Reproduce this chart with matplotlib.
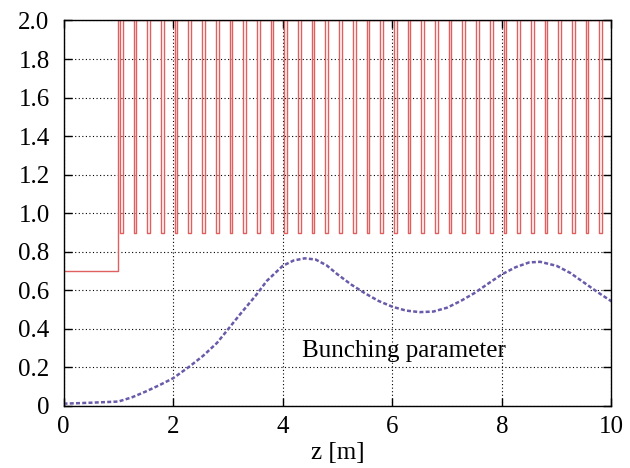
import matplotlib
matplotlib.use("Agg")
import matplotlib.pyplot as plt
from matplotlib.ticker import FuncFormatter

# undulator parameter: entrance level, then full-strength segments with short gaps
k_entry = 0.7
k_entry_end = 1.0
k_on = 2.0
k_gap = 0.9
gap_start = [1.03, 1.28, 1.53, 1.78, 2.03, 2.28, 2.53, 2.78, 3.03, 3.28,
             3.53, 3.78, 4.03, 4.28, 4.53, 4.78, 5.03, 5.28, 5.53, 5.78,
             6.03, 6.28, 6.53, 6.78, 7.03, 7.28, 7.53, 7.78, 8.03, 8.28,
             8.53, 8.78, 9.03, 9.28, 9.53, 9.78]
gap_width = 0.05
z_end = 10.0

# bunching parameter along z
z_b = [0.0, 0.5, 1.0, 1.25, 1.5, 1.75, 2.0, 2.3, 2.55, 2.8, 3.0, 3.22, 3.5,
       3.71, 4.0, 4.2, 4.4, 4.6, 4.8, 5.0, 5.25, 5.5, 5.75, 6.0, 6.25, 6.5,
       6.75, 7.0, 7.25, 7.5, 7.75, 8.0, 8.25, 8.5, 8.7, 9.0, 9.25, 9.5, 9.75, 10.0]
b = [0.012, 0.017, 0.023, 0.045, 0.075, 0.108, 0.144, 0.205, 0.261, 0.327,
     0.397, 0.475, 0.57, 0.649, 0.727, 0.755, 0.766, 0.76, 0.73, 0.683, 0.63,
     0.585, 0.545, 0.515, 0.495, 0.487, 0.49, 0.51, 0.545, 0.586, 0.635,
     0.683, 0.72, 0.745, 0.748, 0.727, 0.69, 0.64, 0.59, 0.543]

# step trace for the undulator parameter
zs = [0.0, k_entry_end, k_entry_end]
ks = [k_entry, k_entry, k_on]
for g in gap_start:
    zs += [g, g, g + gap_width, g + gap_width]
    ks += [k_on, k_gap, k_gap, k_on]
zs.append(z_end)
ks.append(k_on)

plt.rcParams["font.family"] = ["Liberation Serif", "DejaVu Serif"]
plt.rcParams["font.size"] = 18

fig = plt.figure(figsize=(6.3, 4.68), dpi=100)
ax = fig.add_axes([0.1008, 0.1325, 0.8698, 0.8237])

ax.plot(zs, ks, color="#e06060", lw=1.0)
ax.plot(z_b, b, color="#6a5aaa", lw=1.8, dashes=(1.6, 0.9))

ax.text(4.35, 0.255, "Bunching parameter", fontsize=18)

ax.set_xlim(0, 10)
ax.set_ylim(0, 2.0)
ax.set_xticks([0, 2, 4, 6, 8, 10])
ax.set_yticks([0, 0.2, 0.4, 0.6, 0.8, 1.0, 1.2, 1.4, 1.6, 1.8, 2.0])
ax.yaxis.set_major_formatter(FuncFormatter(lambda v, p: "0" if v == 0 else f"{v:.1f}"))
ax.set_xlabel("z [m]", labelpad=3)

ax.grid(True, color="black", ls=(0, (1, 2.2)), lw=0.8)
ax.tick_params(direction="in", length=6, width=1, top=True, right=True, pad=7)
ax.tick_params(axis="y", pad=10)
for s in ax.spines.values():
    s.set_linewidth(1.0)

fig.savefig("out.png", dpi=100)
